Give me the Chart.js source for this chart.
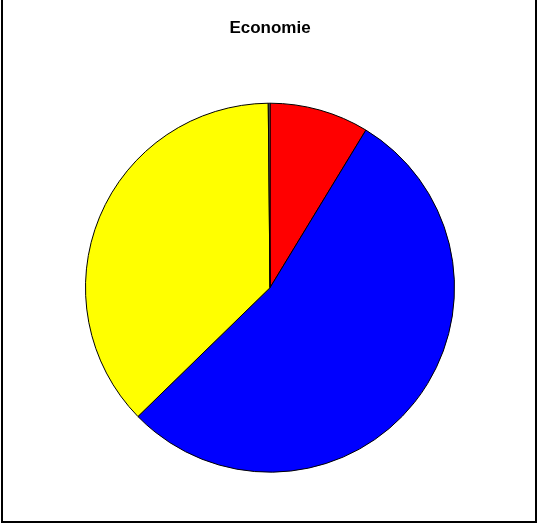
<!DOCTYPE html>
<html>
<head>
<meta charset="utf-8">
<script src="https://cdn.jsdelivr.net/npm/chart.js@4"></script>
<style>
    body { margin: 0; background: #fff; }
    #wrap { position: relative; width: 538px; height: 524px; }
    #frame {
        position: absolute; left: 1px; top: 0; width: 536px; height: 523px;
        box-sizing: border-box;
        border-left: 2px solid #000; border-right: 2px solid #000; border-bottom: 2px solid #000;
        pointer-events: none;
    }
</style>
</head>
<body>
<div id="wrap">
    <canvas id="grafico" width="538" height="524"></canvas>
    <div id="frame"></div>
</div>
<script>
// Valeurs (en %)
const titre = 'Economie';
const categories = ['A', 'B', 'C', 'D'];
const valeurs = [8.7, 54.0, 37.15, 0.15];
const couleurs = ['#FF0000', '#0000FF', '#FFFF00', '#808080'];

const ctx = document.getElementById('grafico').getContext('2d');
new Chart(ctx, {
    type: 'pie',
    data: {
        labels: categories,
        datasets: [{
            data: valeurs,
            backgroundColor: couleurs,
            borderColor: '#000',
            borderWidth: 1
        }]
    },
    options: {
        responsive: false,
        animation: false,
        layout: {
            padding: { top: 0, bottom: 50, left: 85, right: 83 }
        },
        plugins: {
            legend: { display: false },
            tooltip: { enabled: false },
            title: {
                display: true,
                text: titre,
                color: '#000',
                font: { family: 'Liberation Sans, Arial', size: 17, weight: 'bold', lineHeight: 1.2 },
                padding: { top: 18, bottom: 63 }
            }
        }
    }
});
</script>
</body>
</html>
